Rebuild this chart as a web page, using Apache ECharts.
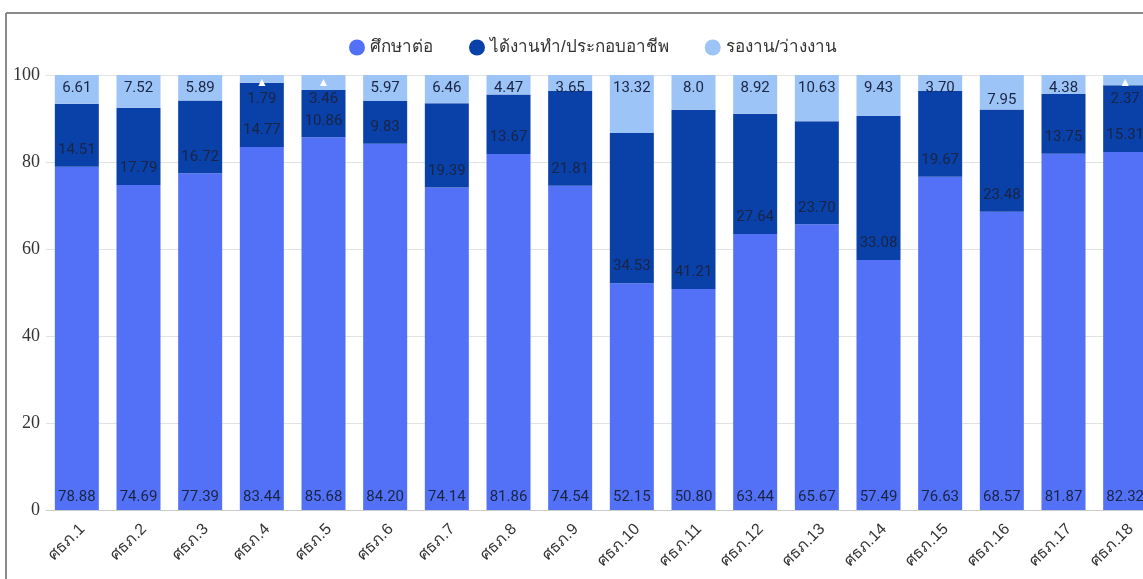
<!DOCTYPE html>
<html>
<head>
<meta charset="utf-8">
<script src="https://cdn.jsdelivr.net/npm/echarts@6/dist/echarts.min.js"></script>
<style>
html,body{margin:0;padding:0;background:#fff;overflow:hidden;}
#chart{width:1143px;height:579px;}
</style>
</head>
<body>
<div id="chart"></div>
<script>
const categories = ['ศธภ.1','ศธภ.2','ศธภ.3','ศธภ.4','ศธภ.5','ศธภ.6','ศธภ.7','ศธภ.8','ศธภ.9','ศธภ.10','ศธภ.11','ศธภ.12','ศธภ.13','ศธภ.14','ศธภ.15','ศธภ.16','ศธภ.17','ศธภ.18'];
const seriesNames = ['ศึกษาต่อ','ได้งานทำ/ประกอบอาชีพ','รองาน/ว่างงาน'];
const studyValues = ['78.88','74.69','77.39','83.44','85.68','84.20','74.14','81.86','74.54','52.15','50.80','63.44','65.67','57.49','76.63','68.57','81.87','82.32'];
const workValues = ['14.51','17.79','16.72','14.77','10.86','9.83','19.39','13.67','21.81','34.53','41.21','27.64','23.70','33.08','19.67','23.48','13.75','15.31'];
const waitValues = ['6.61','7.52','5.89','1.79','3.46','5.97','6.46','4.47','3.65','13.32','8.0','8.92','10.63','9.43','3.70','7.95','4.38','2.37'];
const yTicks = [0,20,40,60,80,100];

const colors = ['#5271f7','#0a41a8','#9dc4f6'];
const labelColor = '#1a2444';
const labelFont = {fontFamily:'Roboto', fontSize:15, color:labelColor};

function mk(arr){ return arr.map(v => Number(v)); }

const waitData = waitValues.map((v,i) => {
  const n = Number(v);
  if (n < 3.5) {
    return {value:n, label:{position:'insideTop', distance:1,
      formatter: '{t|▲}\n{v|' + v + '}',
      rich:{t:{color:'#ffffff', fontSize:12, lineHeight:14, align:'center'},
            v:{color:labelColor, fontSize:15, fontFamily:'Roboto', lineHeight:18, align:'center'}}}};
  }
  if (i === 15) {
    return {value:n, label:{position:'insideBottom', distance:2}};
  }
  return n;
});

const chart = echarts.init(document.getElementById('chart'), null, {renderer:'canvas'});
chart.setOption({
  backgroundColor:'#ffffff',
  animation:false,
  color: colors,
  graphic:[
    {type:'line', shape:{x1:6,y1:13,x2:1143,y2:13}, style:{stroke:'#8a8a8a', lineWidth:2}, z:100},
    {type:'line', shape:{x1:6,y1:13,x2:6,y2:579}, style:{stroke:'#8a8a8a', lineWidth:2}, z:100}
  ],
  legend:{
    left:344, top:34,
    icon:'circle', itemWidth:16, itemHeight:16, itemGap:36,
    textStyle:{fontSize:17, color:'#333'},
    data: seriesNames
  },
  grid:{left:46, width:1110, top:75, bottom:69, containLabel:false, outerBoundsMode:'none'},
  xAxis:{
    type:'category', data:categories,
    axisTick:{show:false},
    axisLine:{lineStyle:{color:'#cccccc'}},
    axisLabel:{rotate:45, fontSize:16, color:'#333', margin:11, interval:0, verticalAlign:'top'}
  },
  yAxis:{
    type:'value', min:0, max:100, interval:20,
    axisLabel:{fontFamily:'Liberation Serif', fontSize:18, color:'#333', margin:6},
    splitLine:{lineStyle:{color:'#e2e2e2'}},
    axisLine:{show:false}, axisTick:{show:false}
  },
  series:[
    {name:seriesNames[0], type:'bar', stack:'a', barWidth:44, data:mk(studyValues),
     label:Object.assign({show:true, position:'insideBottom', distance:5, formatter:p=>studyValues[p.dataIndex]}, labelFont)},
    {name:seriesNames[1], type:'bar', stack:'a', barWidth:44, data:mk(workValues),
     label:Object.assign({show:true, position:'insideBottom', distance:9, formatter:p=>workValues[p.dataIndex]}, labelFont)},
    {name:seriesNames[2], type:'bar', stack:'a', barWidth:44, data:waitData,
     label:Object.assign({show:true, position:'insideTop', distance:6, formatter:p=>waitValues[p.dataIndex]}, labelFont)}
  ]
});
</script>
</body>
</html>
